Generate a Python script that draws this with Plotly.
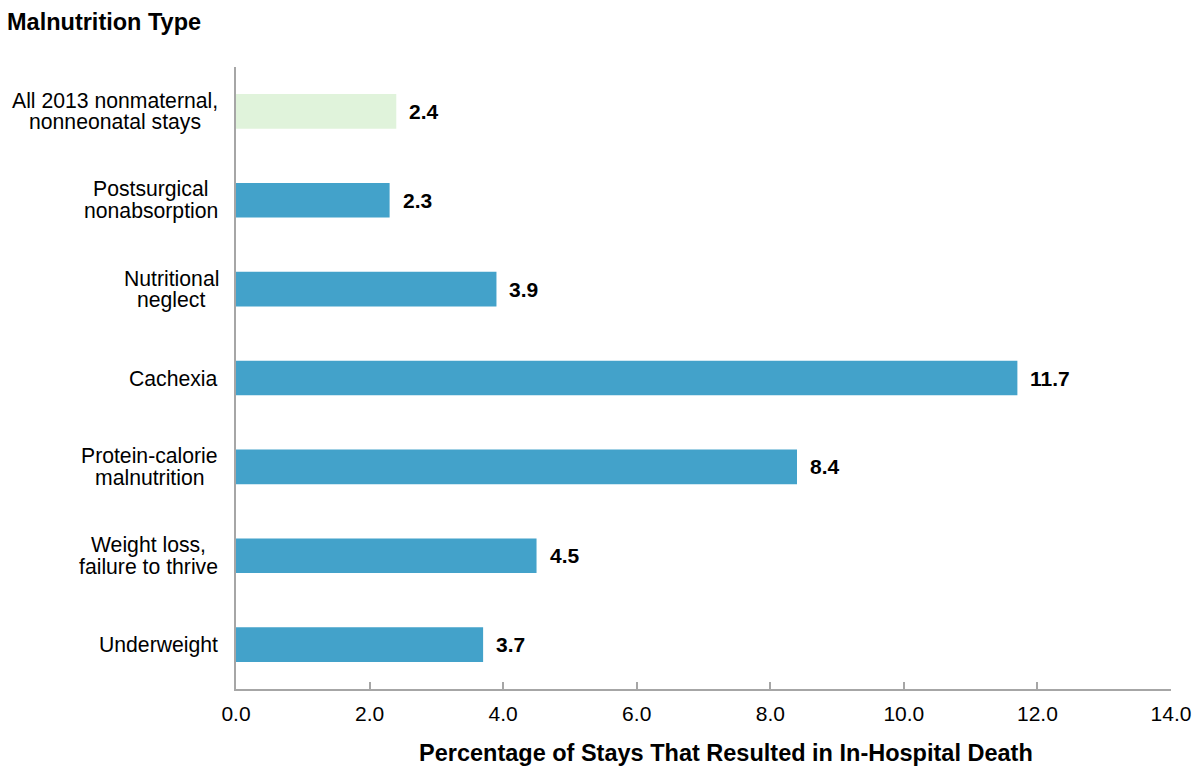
import plotly.graph_objects as go

categories = [
    "All 2013 nonmaternal,<br>nonneonatal stays",
    "Postsurgical<br>nonabsorption",
    "Nutritional<br>neglect",
    "Cachexia",
    "Protein-calorie<br>malnutrition",
    "Weight loss,<br>failure to thrive",
    "Underweight",
]
values = [2.4, 2.3, 3.9, 11.7, 8.4, 4.5, 3.7]
bar_colors = ["#e0f3db", "#43a2ca", "#43a2ca", "#43a2ca", "#43a2ca", "#43a2ca", "#43a2ca"]
x_ticks = [0, 2, 4, 6, 8, 10, 12, 14]
x_tick_labels = ["0.0", "2.0", "4.0", "6.0", "8.0", "10.0", "12.0", "14.0"]

FONT = "Liberation Sans, Arial, sans-serif"
LABEL_SIZE = 21.2

# Arial / Liberation Sans advance widths (per 1000 em) for block-width estimation
_W = {" ": 278, ",": 278, ".": 278, "-": 333, "A": 667, "C": 722, "N": 611, "P": 667,
      "U": 722, "W": 944, "a": 556, "b": 556, "c": 500, "d": 556, "e": 556, "f": 278,
      "g": 556, "h": 556, "i": 222, "k": 500, "l": 222, "m": 833, "n": 556, "o": 556,
      "p": 556, "r": 333, "s": 500, "t": 278, "u": 556, "v": 500, "w": 722, "x": 500,
      "y": 500}


def text_w(s, size):
    return sum(_W.get(ch, 556) for ch in s) / 1000 * size


fig = go.Figure()
fig.add_trace(go.Bar(
    x=values, y=categories, orientation="h",
    marker=dict(color=bar_colors, line=dict(width=0)),
    width=0.39, hoverinfo="skip",
))

annotations = []
line_gap = 22
label_gap = 18
for cat in categories:
    lines = cat.split("<br>")
    n = len(lines)
    block_w = max(text_w(ln, LABEL_SIZE) for ln in lines)
    for i, ln in enumerate(lines):
        offset = (n - 1) / 2 - i
        annotations.append(dict(
            x=0, y=cat, xref="x", yref="y", text=ln, showarrow=False,
            xanchor="center", yanchor="middle",
            xshift=-(label_gap + block_w / 2),
            yshift=offset * line_gap,
            font=dict(family=FONT, size=LABEL_SIZE, color="#000000"),
        ))
for cat, v in zip(categories, values):
    annotations.append(dict(
        x=v, y=cat, xref="x", yref="y", text=f"<b>{v:.1f}</b>", showarrow=False,
        xanchor="left", yanchor="middle", xshift=11,
        font=dict(family=FONT, size=21, color="#000000"),
    ))
annotations.append(dict(
    x=0.524, y=0, xref="paper", yref="paper",
    text="<b>Percentage of Stays That Resulted in In-Hospital Death</b>",
    showarrow=False, xanchor="center", yanchor="middle", yshift=-64,
    font=dict(family=FONT, size=23.5, color="#000000"),
))

fig.update_layout(
    width=1194, height=770,
    margin=dict(l=236, r=23, t=67, b=81, autoexpand=False),
    paper_bgcolor="white", plot_bgcolor="white",
    showlegend=False,
    title=dict(
        text="<b>Malnutrition Type</b>", xref="container", yref="container",
        x=7 / 1194, xanchor="left", y=1 - 22 / 770, yanchor="middle",
        font=dict(family=FONT, size=23.5, color="#000000"),
    ),
    xaxis=dict(
        range=[0, 14], tickvals=x_ticks, ticktext=x_tick_labels,
        showgrid=False, zeroline=False,
        showline=True, linecolor="#a6a6a6", linewidth=2,
        ticks="inside", ticklen=7, tickwidth=2, tickcolor="#a6a6a6",
        tickfont=dict(family=FONT, size=21, color="#000000"),
        ticklabelstandoff=5, ticklabeloverflow="allow", automargin=False,
        fixedrange=True,
    ),
    yaxis=dict(
        categoryorder="array", categoryarray=categories,
        range=[6.5, -0.5], automargin=False,
        showticklabels=False, showgrid=False, zeroline=False,
        showline=True, linecolor="#a6a6a6", linewidth=2, ticks="",
        fixedrange=True,
    ),
    annotations=annotations,
)

fig.write_html("out.html")
